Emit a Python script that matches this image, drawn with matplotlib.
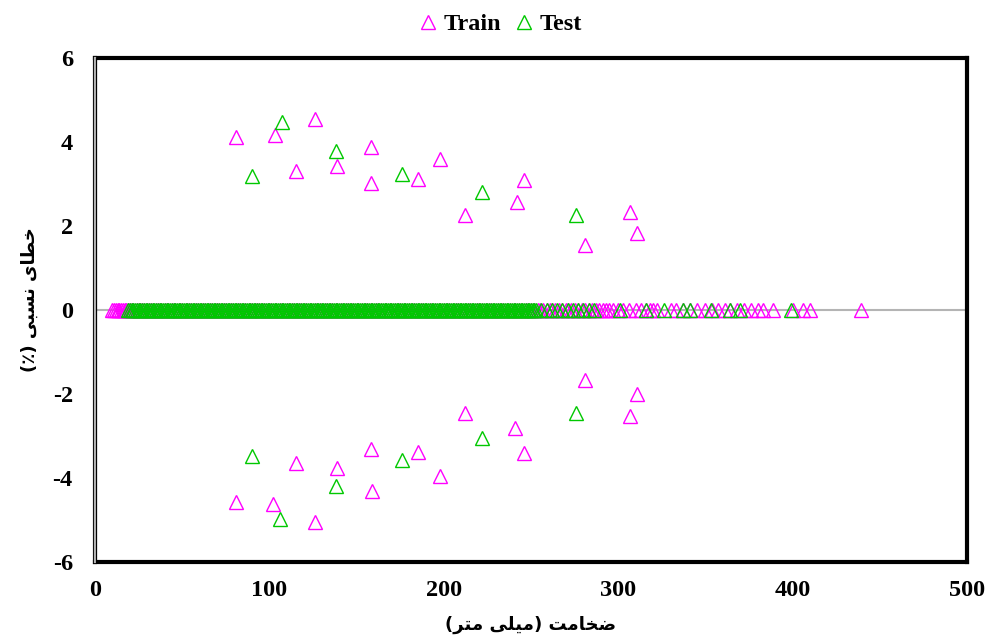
import matplotlib
matplotlib.use("Agg")
import matplotlib.pyplot as plt
from matplotlib.lines import Line2D

# ---------------- data ----------------
train_x_nonzero = [81, 103, 115, 126, 139, 158, 158, 185, 198, 212, 242, 246, 281, 307, 311,
                   81, 102, 115, 126, 139, 158, 159, 185, 198, 212, 241, 246, 281, 307, 311]
train_y_nonzero = [4.12, 4.17, 3.31, 4.55, 3.43, 3.88, 3.02, 3.12, 3.60, 2.26, 2.57, 3.10, 1.55, 2.33, 1.83,
                   -4.57, -4.62, -3.64, -5.05, -3.76, -3.31, -4.31, -3.38, -3.95, -2.45, -2.81, -3.40, -1.67, -2.52, -2.00]

test_x_nonzero = [90, 107, 138, 176, 222, 276,
                  90, 106, 138, 176, 222, 276]
test_y_nonzero = [3.19, 4.48, 3.79, 3.24, 2.81, 2.26,
                  -3.48, -4.98, -4.19, -3.57, -3.05, -2.45]

train_x_zero = [10, 11, 12, 13, 14, 15, 16, 17, 18, 19, 20, 21, 22, 24, 25, 26, 27, 28, 30, 31,
                32, 33, 35, 36, 37, 38, 40, 41, 42, 44, 45, 46, 48, 49, 50, 52, 53, 54, 55, 57,
                58, 59, 61, 62, 63, 65, 66, 67, 69, 70, 71, 73, 74, 75, 77, 78, 79, 81, 82, 83,
                85, 86, 88, 89, 90, 92, 93, 94, 96, 97, 99, 100, 101, 103, 104, 106, 107, 108,
                110, 111, 113, 114, 116, 117, 118, 120, 121, 123, 124, 126, 127, 129, 130, 132,
                133, 135, 136, 138, 139, 141, 142, 144, 145, 147, 148, 150, 151, 153, 155, 156,
                158, 159, 161, 162, 164, 166, 167, 169, 170, 172, 174, 175, 177, 178, 180, 182,
                183, 185, 187, 188, 190, 192, 193, 195, 197, 198, 200, 202, 203, 205, 207, 208,
                210, 212, 214, 215, 217, 219, 220, 222, 224, 226, 227, 229, 231, 233, 234, 236,
                238, 240, 241, 243, 245, 247, 248, 250, 252, 254, 255, 257, 259, 261, 262, 264,
                266, 268, 270, 271, 273, 275, 277, 279, 281, 283, 285, 287, 289, 291, 293, 295,
                297, 300, 303, 306, 310, 313, 316, 318, 320, 322, 330, 333, 337, 341, 345, 350,
                354, 357, 361, 364, 368, 372, 376, 380, 383, 389, 400, 406, 410, 439]

test_x_zero = [19, 20, 21, 22, 23, 24, 25, 26, 27, 28, 29, 30, 31, 32, 33, 34, 35, 36, 37, 38,
               39, 40, 41, 42, 43, 44, 45, 46, 47, 48, 49, 50, 51, 52, 53, 54, 55, 56, 57, 58,
               59, 60, 61, 62, 63, 64, 65, 66, 67, 68, 69, 70, 71, 72, 73, 74, 75, 76, 77, 78,
               79, 80, 81, 82, 83, 84, 85, 86, 87, 88, 89, 90, 91, 92, 93, 94, 95, 96, 97, 98,
               99, 100, 101, 102, 103, 104, 105, 106, 107, 108, 109, 110, 111, 112, 113, 114,
               115, 116, 117, 118, 119, 120, 121, 122, 123, 124, 125, 126, 127, 128, 129, 130,
               131, 132, 133, 134, 135, 136, 137, 138, 139, 140, 141, 142, 143, 144, 145, 146,
               147, 148, 149, 150, 151, 152, 153, 154, 155, 156, 157, 158, 159, 160, 161, 162,
               163, 164, 165, 166, 167, 168, 169, 170, 171, 172, 173, 174, 175, 176, 177, 178,
               179, 180, 181, 182, 183, 184, 185, 186, 187, 188, 189, 190, 191, 192, 193, 194,
               195, 196, 197, 198, 199, 200, 201, 202, 203, 204, 205, 206, 207, 208, 209, 210,
               211, 212, 213, 214, 215, 216, 217, 218, 219, 220, 221, 222, 223, 224, 225, 226,
               227, 228, 229, 230, 231, 232, 233, 234, 235, 236, 237, 238, 239, 240, 241, 242,
               243, 244, 245, 246, 247, 248, 249, 250, 251, 252, 253, 256, 259, 262, 265, 268,
               271, 274, 277, 280, 283, 286, 301, 316, 326, 337, 341, 353, 364, 370, 399]

x_ticks = [0, 100, 200, 300, 400, 500]
y_ticks = [-6, -4, -2, 0, 2, 4, 6]

# Persian labels in visual order with presentation forms (matplotlib has no bidi/shaping)
xlabel = ("(" + "\uFEAE\uFE98\uFEE3" + " " + "\uFEF0\uFEE0\uFEF4\uFEE3" + ")" + " "
          + "\uFE96\uFEE3\uFE8E\uFEA8\uFEBF")
ylabel = ("(\u066A)" + " " + "\uFEF0\uFE92\uFEB4\uFEE7" + " " + "\uFEEF\uFE8E\uFEC4\uFEA7")

MAGENTA = "#FF00FF"
GREEN = "#00C800"

# ---------------- figure ----------------
fig = plt.figure(figsize=(9.87, 6.37), dpi=100)
ax = fig.add_axes([0.0963, 0.1177, 0.8834, 0.7913])

ax.axhline(0, color="#B4B4B4", lw=1.5, zorder=1)

mk = dict(marker="^", linestyle="none", markersize=10.5, mfc="none", mew=1.0)
ax.plot(train_x_zero + train_x_nonzero, [0] * len(train_x_zero) + train_y_nonzero,
        color=MAGENTA, zorder=2, **mk)
ax.plot(test_x_zero + test_x_nonzero, [0] * len(test_x_zero) + test_y_nonzero,
        color=GREEN, zorder=3, **mk)

ax.set_xlim(0, 500)
ax.set_ylim(-6, 6)
ax.set_xticks(x_ticks)
ax.set_yticks(y_ticks)

tickfont = dict(family="Liberation Serif", weight="bold", size=17.5)
ax.set_xticklabels([str(v) for v in x_ticks], **tickfont)
ax.set_yticklabels([str(v) for v in y_ticks], **tickfont)
ax.tick_params(axis="both", length=0)
ax.tick_params(axis="x", pad=13)
ax.tick_params(axis="y", pad=16)

for s in ["top", "right", "bottom", "left"]:
    ax.spines[s].set_linewidth(3.0)
    ax.spines[s].set_color("black")
# gray + thin black inner lines along the left edge (double-line look)
ax.plot([0, 0], [-6, 6], color="#B4B4B4", lw=1.6, clip_on=False, zorder=5)
ax.plot([0.55, 0.55], [-6, 6], color="black", lw=0.8, clip_on=False, zorder=6)

labfont = dict(family=["DejaVu Sans"], weight="bold", size=13)
fig.text(0.538, 0.004, xlabel, ha="center", va="bottom", **labfont)
fig.text(0.030, 0.53, ylabel, ha="center", va="center", rotation=90, **labfont)

handles = [Line2D([], [], color=MAGENTA, **mk), Line2D([], [], color=GREEN, **mk)]
fig.legend(handles, ["Train", "Test"], loc="center", bbox_to_anchor=(0.506, 0.962),
           ncol=2, frameon=False, handlelength=0.9, handletextpad=0.2,
           columnspacing=0.5, prop=dict(family="Liberation Serif", weight="bold", size=17.5))

fig.savefig("out.png", dpi=100)
